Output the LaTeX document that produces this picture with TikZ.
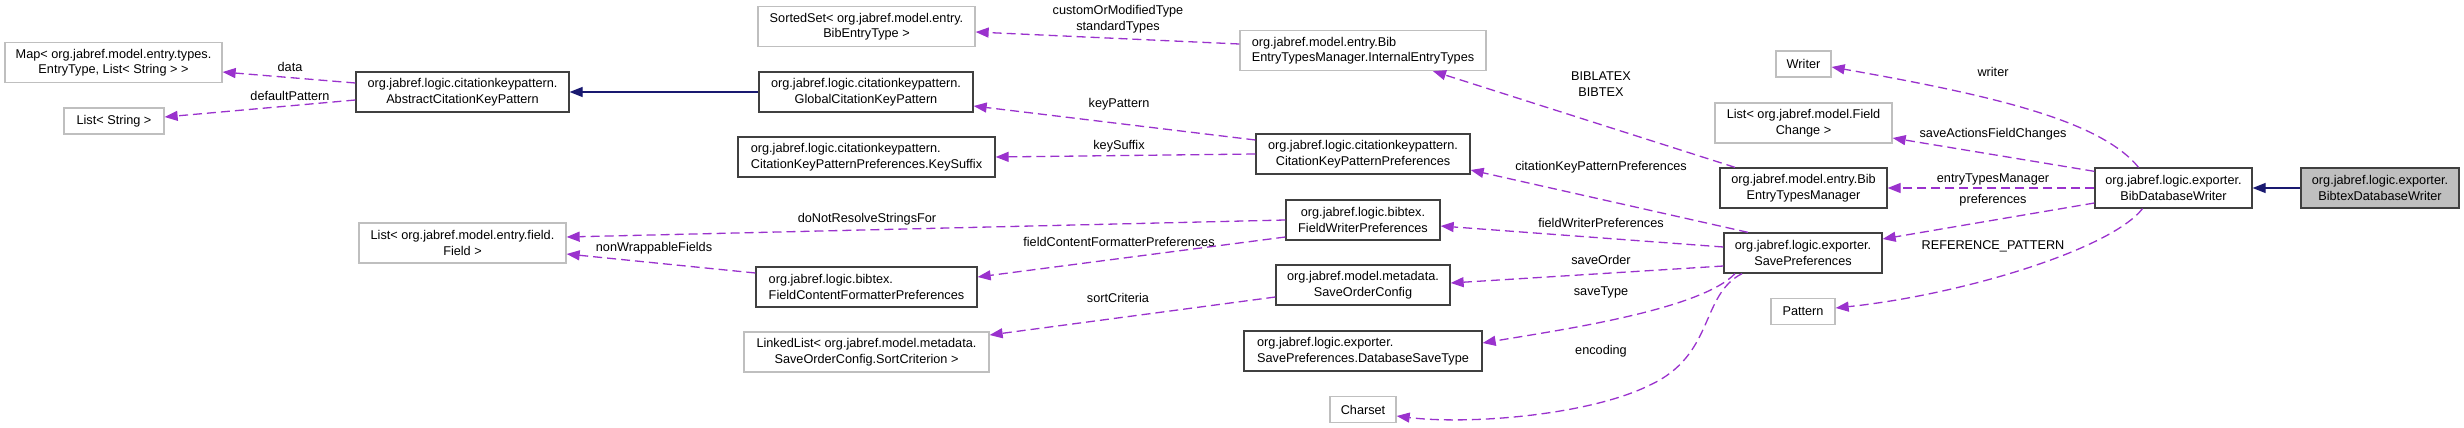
\documentclass[tikz,border=0pt]{standalone}
\usepackage{fontspec}
\setmainfont{Liberation Sans}
\usetikzlibrary{arrows.meta}
\definecolor{orchid3}{HTML}{9A32CD}
\definecolor{midnight}{HTML}{191970}
\definecolor{grey75}{HTML}{BFBFBF}

\begin{document}
\begin{tikzpicture}[
  x=1pt, y=-1pt,
  line width=1.3pt,
  every node/.style={font=\fontsize{12.7}{15.5}\selectfont,inner xsep=2pt,inner ysep=0pt},
  cls/.style={draw=black!75,fill=white,minimum height=40pt,align=center},
  lcls/.style={cls,align=left},
  ext/.style={cls,draw=grey75},
  usage/.style={draw=orchid3,dash pattern=on 9pt off 5pt,-{Triangle[length=13pt,width=10pt]}},
  inh/.style={draw=midnight,-{Triangle[length=13pt,width=10pt]}},
  lbl/.style={inner sep=0pt,align=center}
]%
  \useasboundingbox (0,0) rectangle (2464,428);

  \node[ext,minimum width=217pt] (map) at (113.5,62.5) {Map< org.jabref.model.entry.types.\\EntryType, List< String > >};
  \node[ext,minimum width=100pt,minimum height=26pt] (lstStr) at (114,121) {List< String >};
  \node[cls,minimum width=213pt] (abs) at (462.5,92) {org.jabref.logic.citationkeypattern.\\AbstractCitationKeyPattern};
  \node[ext,minimum width=207pt] (lstFld) at (462.5,243) {List< org.jabref.model.entry.field.\\Field >};

  \node[ext,minimum width=217pt] (srtSet) at (866.5,26.5) {SortedSet< org.jabref.model.entry.\\BibEntryType >};
  \node[cls,minimum width=214pt] (glob) at (866,92) {org.jabref.logic.citationkeypattern.\\GlobalCitationKeyPattern};
  \node[lcls,minimum width=257pt] (keySfx) at (866.5,157) {org.jabref.logic.citationkeypattern.\\CitationKeyPatternPreferences.KeySuffix};
  \node[lcls,minimum width=221pt] (fcfp) at (866.5,287) {org.jabref.logic.bibtex.\\FieldContentFormatterPreferences};
  \node[ext,minimum width=245pt] (lnkLst) at (866.5,352) {LinkedList< org.jabref.model.metadata.\\SaveOrderConfig.SortCriterion >};

  \node[ext,align=left,minimum width=246pt] (iet) at (1363,50.5) {org.jabref.model.entry.Bib\\EntryTypesManager.InternalEntryTypes};
  \node[cls,minimum width=214pt] (ckpp) at (1363,154) {org.jabref.logic.citationkeypattern.\\CitationKeyPatternPreferences};
  \node[cls,minimum width=154pt] (fwp) at (1363,220) {org.jabref.logic.bibtex.\\FieldWriterPreferences};
  \node[cls,minimum width=174pt] (soc) at (1363,285) {org.jabref.model.metadata.\\SaveOrderConfig};
  \node[lcls,minimum width=238pt] (dst) at (1363,351) {org.jabref.logic.exporter.\\SavePreferences.DatabaseSaveType};
  \node[ext,minimum width=66pt,minimum height=26pt] (cset) at (1363,409.5) {Charset};

  \node[ext,minimum width=55pt,minimum height=26pt] (wrt) at (1803.5,64) {Writer};
  \node[ext,minimum width=177pt] (lstFc) at (1803.5,123) {List< org.jabref.model.Field\\Change >};
  \node[cls,minimum width=167pt] (betm) at (1803.5,188) {org.jabref.model.entry.Bib\\EntryTypesManager};
  \node[cls,minimum width=158pt] (sp) at (1803,253) {org.jabref.logic.exporter.\\SavePreferences};
  \node[ext,minimum width=64pt,minimum height=26pt] (pat) at (1803,311.5) {Pattern};

  \node[cls,minimum width=157pt] (bdw) at (2173.5,188) {org.jabref.logic.exporter.\\BibDatabaseWriter};
  \node[cls,fill=grey75,minimum width=158pt] (btx) at (2380,188) {org.jabref.logic.exporter.\\BibtexDatabaseWriter};

  \draw[inh] (glob) -- (abs);
  \draw[inh] (btx) -- (bdw);

  \draw[usage] ([yshift=9pt]abs.west) -- ([yshift=-9.5pt]map.east);
  \draw[usage] ([yshift=-8pt]abs.west) -- ([yshift=4pt]lstStr.east);
  \draw[usage] ([yshift=6.5pt]iet.west) -- ([yshift=-5.5pt]srtSet.east);
  \draw[usage] ([yshift=14pt]ckpp.west) -- ([yshift=-14pt]glob.east);
  \draw[usage] (ckpp.west) -- (keySfx.east);
  \draw[usage] (fwp.west) -- ([yshift=6pt]lstFld.east);
  \draw[usage] ([yshift=-17pt]fwp.west) -- ([yshift=10pt]fcfp.east);
  \draw[usage] ([yshift=14pt]fcfp.west) -- ([yshift=-11pt]lstFld.east);
  \draw[usage] ([yshift=-12pt]soc.west) -- ([yshift=17pt]lnkLst.east);
  \draw[usage] ([xshift=-55pt]sp.north) -- ([yshift=-16pt]ckpp.east);
  \draw[usage] ([yshift=6pt]sp.west) -- ([yshift=-6pt]fwp.east);
  \draw[usage] ([yshift=-13pt]sp.west) -- ([yshift=2pt]soc.east);
  \draw[usage] ([xshift=-68pt]sp.south) .. controls (1700,310) and (1560,330) .. ([yshift=8pt]dst.east);
  \draw[usage] ([xshift=-61pt]sp.south) .. controls (1700,295) and (1715,355) .. (1650,385)
    .. controls (1590,415) and (1470,425) .. ([yshift=-6.5pt]cset.east);
  \draw[usage] ([xshift=-68.5pt]betm.north) -- ([xshift=70pt]iet.south);
  \draw[usage] ([xshift=-35pt]bdw.north) .. controls (2100,120) and (1990,95) .. ([yshift=-3pt]wrt.east);
  \draw[usage] ([yshift=-4pt]bdw.north west) -- ([yshift=-15pt]lstFc.east);
  \draw[usage] (bdw) -- (betm);
  \draw[usage] ([yshift=-15pt]bdw.west) -- ([yshift=14pt]sp.east);
  \draw[usage] ([xshift=-31pt]bdw.south) .. controls (2110,250) and (1960,295) .. ([yshift=3.5pt]pat.east);

  \node[lbl] (lData) at (290,66.5) {data};
  \node[lbl] (lDefPat) at (290,95.5) {defaultPattern};
  \node[lbl] (lNoWrap) at (654,248) {nonWrappableFields};
  \node[lbl] (lNoRes) at (867,219) {doNotResolveStringsFor};
  \node[lbl] (lTypes) at (1118,19) {customOrModifiedType\\standardTypes};
  \node[lbl] (lKeyPat) at (1119,104) {keyPattern};
  \node[lbl] (lKeySfx) at (1119,146) {keySuffix};
  \node[lbl] (lFcfp) at (1119,242) {fieldContentFormatterPreferences};
  \node[lbl] (lSort) at (1118,298) {sortCriteria};
  \node[lbl] (lBib) at (1601,84) {BIBLATEX\\BIBTEX};
  \node[lbl] (lCkpp) at (1601,167) {citationKeyPatternPreferences};
  \node[lbl] (lFwp) at (1601,223) {fieldWriterPreferences};
  \node[lbl] (lOrder) at (1601,260) {saveOrder};
  \node[lbl] (lType) at (1601,292) {saveType};
  \node[lbl] (lEnc) at (1601,351) {encoding};
  \node[lbl] (lWrt) at (1993,72) {writer};
  \node[lbl] (lFc) at (1993,134) {saveActionsFieldChanges};
  \node[lbl] (lEtm) at (1993,179) {entryTypesManager};
  \node[lbl] (lPref) at (1993,200) {preferences};
  \node[lbl] (lRef) at (1993,246) {REFERENCE\_PATTERN};
\end{tikzpicture}
\end{document}
